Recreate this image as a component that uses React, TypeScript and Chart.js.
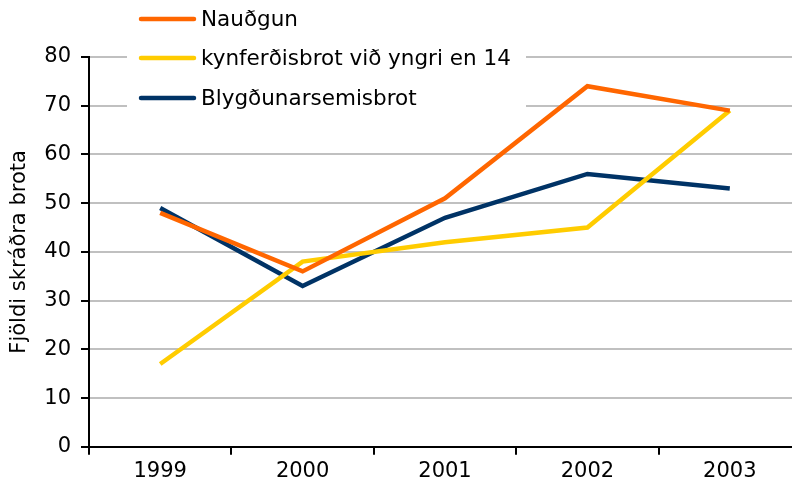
import React, { useEffect, useRef } from "react";
import { Chart, registerables } from "chart.js";

Chart.register(...registerables);

const categories = ["1999", "2000", "2001", "2002", "2003"];
const seriesNames = ["Nauðgun", "kynferðisbrot við yngri en 14", "Blygðunarsemisbrot"];
const naudgun = [48, 36, 51, 74, 69];
const kynferdisbrot = [17, 38, 42, 45, 69];
const blygdunarsemisbrot = [49, 33, 47, 56, 53];
const seriesColors = ["#FF6600", "#FFCC00", "#003366"];
const yTitle = "Fjöldi skráðra brota";

const FONT = "DejaVu Sans";

const legendPlugin = {
  id: "customLegend",
  afterDraw(chart: any) {
    const ctx = chart.ctx;
    ctx.save();
    ctx.fillStyle = "#ffffff";
    ctx.fillRect(127, 0, 399, 120);
    const rows = [19, 58, 98];
    chart.data.datasets.forEach((ds: any, i: number) => {
      const y = rows[i];
      ctx.strokeStyle = ds.borderColor;
      ctx.lineWidth = 4.5;
      ctx.lineCap = "round";
      ctx.beginPath();
      ctx.moveTo(141, y);
      ctx.lineTo(194, y);
      ctx.stroke();
      ctx.fillStyle = "#000";
      ctx.font = `21.5px '${FONT}'`;
      ctx.textBaseline = "middle";
      ctx.textAlign = "left";
      ctx.fillText(ds.label, 201, y + 1);
    });
    ctx.restore();
  },
};

export default function App() {
  const ref = useRef<HTMLCanvasElement>(null);
  useEffect(() => {
    if (!ref.current) return;
    const chart = new Chart(ref.current, {
      type: "line",
      data: {
        labels: categories,
        datasets: [naudgun, kynferdisbrot, blygdunarsemisbrot].map((d, i) => ({
          label: seriesNames[i],
          data: d,
          borderColor: seriesColors[i],
          backgroundColor: seriesColors[i],
          borderWidth: 4.5,
          pointRadius: 0,
          tension: 0,
          fill: false,
        })),
      },
      options: {
        responsive: false,
        animation: false,
        layout: { padding: { top: 57, bottom: 0, left: 0, right: 0 } },
        plugins: {
          legend: { display: false },
          tooltip: { enabled: false },
        },
        scales: {
          x: {
            offset: true,
            grid: {
              offset: true,
              drawOnChartArea: false,
              drawTicks: true,
              tickLength: 8,
              tickColor: "#000",
              lineWidth: 2,
            },
            border: { color: "#000", width: 2 },
            ticks: { color: "#000", font: { family: FONT, size: 21 }, padding: 4 },
          },
          y: {
            min: 0,
            max: 80,
            afterFit: (scale: any) => {
              scale.width = 89;
            },
            ticks: { stepSize: 10, color: "#000", font: { family: FONT, size: 21 }, padding: 10 },
            grid: {
              color: "#c0c0c0",
              lineWidth: 2,
              tickColor: "#000",
              tickLength: 8,
            },
            border: { color: "#000", width: 2 },
            title: {
              display: true,
              text: yTitle,
              color: "#000",
              font: { family: FONT, size: 21 },
              padding: { top: 7, bottom: 0 },
            },
          },
        },
      },
      plugins: [legendPlugin],
    });
    return () => chart.destroy();
  }, []);
  return (
    <div style={{ position: "fixed", left: 0, top: 0, width: 792, height: 488, overflow: "hidden", background: "#fff" }}>
      <canvas ref={ref} width={801} height={488} style={{ width: 801, height: 488, display: "block" }} />
    </div>
  );
}
